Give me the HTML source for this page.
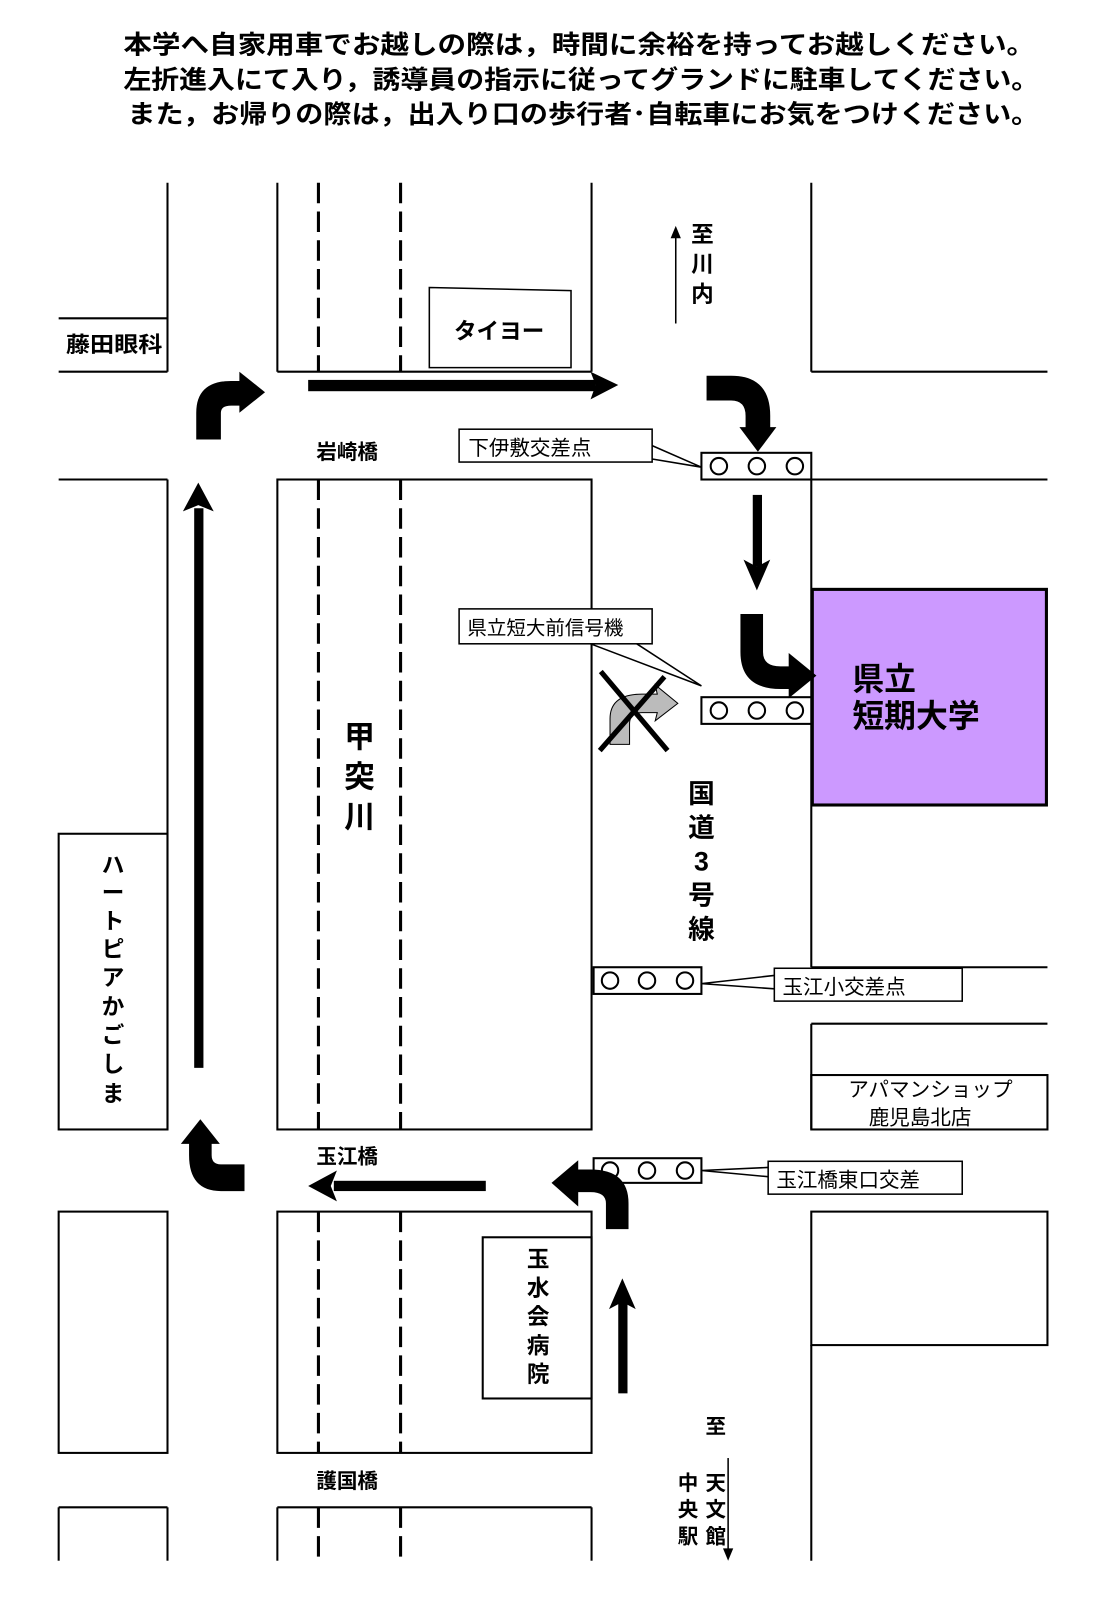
<!DOCTYPE html>
<html><head><meta charset="utf-8"><style>
html,body{margin:0;padding:0;background:#fff;}
svg{display:block;}
text{font-family:"Liberation Sans","Noto Sans CJK JP",sans-serif;font-weight:bold;fill:#000;}
</style></head><body>
<svg width="1102" height="1610" viewBox="0 0 1073 1568" xmlns="http://www.w3.org/2000/svg">
<rect width="1073" height="1568" fill="#fff"/>
<text x="120" y="52" font-size="25" textLength="888" lengthAdjust="spacingAndGlyphs">本学へ自家用車でお越しの際は，時間に余裕を持ってお越しください。</text>
<text x="120" y="86" font-size="25" textLength="892" lengthAdjust="spacingAndGlyphs">左折進入にて入り，誘導員の指示に従ってグランドに駐車してください。</text>
<text x="124" y="120" font-size="25" textLength="888" lengthAdjust="spacingAndGlyphs">また，お帰りの際は，出入り口の歩行者･自転車にお気をつけください。</text>

<g stroke="#000" stroke-width="2" fill="none">
<line x1="163" y1="178" x2="163" y2="362"/>
<line x1="57" y1="310" x2="163" y2="310"/>
<line x1="57" y1="362" x2="163" y2="362"/>
<line x1="57" y1="467" x2="163" y2="467"/>
<line x1="163" y1="467" x2="163" y2="1100"/>
<line x1="57" y1="1100" x2="163" y2="1100"/>
<rect x="57" y="812" width="106" height="288"/>
<rect x="57" y="1180" width="106" height="235"/>
<line x1="57" y1="1468" x2="163" y2="1468"/>
<line x1="57" y1="1468" x2="57" y2="1520"/>
<line x1="163" y1="1468" x2="163" y2="1520"/>
<line x1="270" y1="178" x2="270" y2="362"/>
<line x1="576" y1="178" x2="576" y2="362"/>
<line x1="270" y1="362" x2="576" y2="362"/>
<rect x="270" y="467" width="306" height="633"/>
<rect x="270" y="1180" width="306" height="235"/>
<line x1="270" y1="1468" x2="576" y2="1468"/>
<line x1="270" y1="1468" x2="270" y2="1520"/>
<line x1="576" y1="1468" x2="576" y2="1520"/>
<polygon points="418,280 556,283 556,358 418,358" stroke-width="1.5"/>
<rect x="470" y="1205" width="106" height="157"/>
<line x1="790" y1="178" x2="790" y2="362"/>
<line x1="790" y1="362" x2="1020" y2="362"/>
<line x1="790" y1="467" x2="1020" y2="467"/>
<line x1="790" y1="467" x2="790" y2="942"/>
<line x1="790" y1="942" x2="1020" y2="942"/>
<line x1="790" y1="997" x2="1020" y2="997"/>
<line x1="790" y1="997" x2="790" y2="1100"/>
<rect x="790" y="1047" width="230" height="53"/>
<rect x="790" y="1180" width="230" height="130"/>
<line x1="790" y1="1310" x2="790" y2="1520"/>
</g>
<g stroke="#000" stroke-width="3" stroke-dasharray="20,8" fill="none">
<line x1="310" y1="178" x2="310" y2="362"/>
<line x1="390" y1="178" x2="390" y2="362"/>
<line x1="310" y1="467" x2="310" y2="1100"/>
<line x1="390" y1="467" x2="390" y2="1100"/>
<line x1="310" y1="1180" x2="310" y2="1415"/>
<line x1="390" y1="1180" x2="390" y2="1415"/>
<line x1="310" y1="1468" x2="310" y2="1520"/>
<line x1="390" y1="1468" x2="390" y2="1520"/>
</g>
<rect x="791" y="574" width="228" height="210" fill="#cc99ff" stroke="#000" stroke-width="3"/>
<text x="830" y="672" font-size="31">県立</text>
<text x="830" y="708" font-size="31">短期大学</text>

<g stroke="#000" stroke-width="2" fill="#fff">
<rect x="683" y="441" width="107" height="26"/>
<rect x="683" y="679" width="107" height="26"/>
<rect x="578" y="942" width="105" height="26"/>
<rect x="578" y="1128" width="105" height="24"/>
</g>
<g stroke="#000" stroke-width="2" fill="none">
<circle cx="700" cy="454" r="8"/><circle cx="737" cy="454" r="8"/><circle cx="774" cy="454" r="8"/>
<circle cx="700" cy="692" r="8"/><circle cx="737" cy="692" r="8"/><circle cx="774" cy="692" r="8"/>
<circle cx="594" cy="955" r="8"/><circle cx="630" cy="955" r="8"/><circle cx="667" cy="955" r="8"/>
<circle cx="594" cy="1140" r="8"/><circle cx="630" cy="1140" r="8"/><circle cx="667" cy="1140" r="8"/>
</g>
<g stroke="#000" stroke-width="1.5" fill="#fff">
<polyline points="635,434 683,455 635,447" fill="none"/>
<rect x="447" y="418" width="188" height="32"/>
<polyline points="575,627 683,668 620,627" fill="none"/>
<rect x="447" y="593" width="188" height="34"/>
<polyline points="754,950 683,958 754,963" fill="none"/>
<rect x="754" y="943" width="183" height="32"/>
<polyline points="748,1137 683,1140 748,1146" fill="none"/>
<rect x="748" y="1131" width="189" height="32"/>
</g>
<text x="456" y="443" font-size="20" style="font-weight:normal">下伊敷交差点</text>
<text x="455" y="618" font-size="19" style="font-weight:normal">県立短大前信号機</text>
<text x="762" y="968" font-size="20" style="font-weight:normal">玉江小交差点</text>
<text x="756" y="1156" font-size="20" style="font-weight:normal">玉江橋東口交差</text>

<text x="64" y="343" font-size="21" textLength="94" lengthAdjust="spacingAndGlyphs">藤田眼科</text>
<text x="442" y="330" font-size="22">タイヨー</text>
<text x="308" y="447" font-size="20">岩崎橋</text>
<text x="308" y="1133" font-size="20">玉江橋</text>
<text x="308" y="1449" font-size="20">護国橋</text>
<g font-size="30" text-anchor="middle">
<text x="350" y="728">甲</text><text x="350" y="767">突</text><text x="350" y="806">川</text>
</g>
<g font-size="26" text-anchor="middle">
<text x="683" y="782">国</text><text x="683" y="815">道</text><text x="683" y="848">3</text><text x="683" y="881">号</text><text x="683" y="914">線</text>
</g>
<g font-size="22" text-anchor="middle">
<text x="684" y="236">至</text><text x="684" y="265">川</text><text x="684" y="294">内</text>
</g>
<line x1="658" y1="315" x2="658" y2="228" stroke="#000" stroke-width="1.5"/>
<polygon points="653,232 658,220 663,232" fill="#000"/>
<g font-size="22" text-anchor="middle">
<text x="110" y="850">ハ</text><text x="110" y="877">ー</text><text x="110" y="905">ト</text><text x="110" y="932">ピ</text><text x="110" y="960">ア</text><text x="110" y="988">か</text><text x="110" y="1016">ご</text><text x="110" y="1044">し</text><text x="110" y="1073">ま</text>
</g>
<g font-size="22" text-anchor="middle">
<text x="524" y="1234">玉</text><text x="524" y="1262">水</text><text x="524" y="1290">会</text><text x="524" y="1318">病</text><text x="524" y="1346">院</text>
</g>
<text x="697" y="1396" font-size="20" text-anchor="middle">至</text>
<g font-size="20" text-anchor="middle">
<text x="697" y="1451">天</text><text x="697" y="1477">文</text><text x="697" y="1503">館</text>
<text x="670" y="1451">中</text><text x="670" y="1477">央</text><text x="670" y="1503">駅</text>
</g>
<line x1="709" y1="1420" x2="709" y2="1510" stroke="#000" stroke-width="1.5"/>
<polygon points="704,1508 709,1520 714,1508" fill="#000"/>
<text x="826" y="1068" font-size="20" style="font-weight:normal" textLength="160" lengthAdjust="spacingAndGlyphs">アパマンショップ</text>
<text x="846" y="1095" font-size="20" style="font-weight:normal">鹿児島北店</text>

<g fill="#000">
<rect x="189" y="495" width="9" height="545"/>
<polygon points="178,498 193,470 208,498 193,492"/>
<path d="M191,428 L191,402 Q191,371 225,371 L236,371 L236,395 L225,395 Q215,395 215,402 L215,428 Z"/>
<polygon points="233,362 258,382 233,402"/>
<rect x="300" y="370" width="280" height="11"/>
<polygon points="575,362 602,375 575,389 580,375"/>
<path d="M688,366 L712,366 Q750,366 750,405 L750,420 L726,420 L726,405 Q726,390 712,390 L688,390 Z"/>
<polygon points="720,416 756,416 738,440"/>
<rect x="733" y="482" width="9" height="70"/>
<polygon points="724,545 737,575 750,545 737,552"/>
<path d="M721,598 L743,598 L743,635 Q743,649 760,649 L772,649 L772,671 L760,671 Q721,671 721,635 Z"/>
<polygon points="768,636 795,658 768,680"/>
<rect x="602" y="1268" width="9" height="89"/>
<polygon points="593,1275 606,1245 619,1275 606,1268"/>
<path d="M590,1197 L590,1172 Q590,1161 575,1161 L560,1161 L560,1139 L575,1139 Q612,1139 612,1172 L612,1197 Z"/>
<polygon points="563,1130 537,1152 563,1175"/>
<rect x="325" y="1150" width="148" height="10"/>
<polygon points="328,1140 300,1155 328,1170 322,1155"/>
<path d="M238,1134 L238,1160 L215,1160 Q184,1160 184,1125 L184,1112 L206,1112 L206,1125 Q206,1134 215,1134 Z"/>
<polygon points="176,1114 195,1090 214,1114"/>
</g>
<path d="M594,725 L594,700 Q594,676 625,676 L640,676 L638,667 L660,685 L638,702 L640,694 L625,694 Q613,694 613,705 L613,725 Z" fill="#bbb" stroke="#000" stroke-width="1"/>
<line x1="585" y1="654" x2="650" y2="731" stroke="#000" stroke-width="5"/>
<line x1="647" y1="659" x2="584" y2="731" stroke="#000" stroke-width="5"/>
</svg>
</body></html>
